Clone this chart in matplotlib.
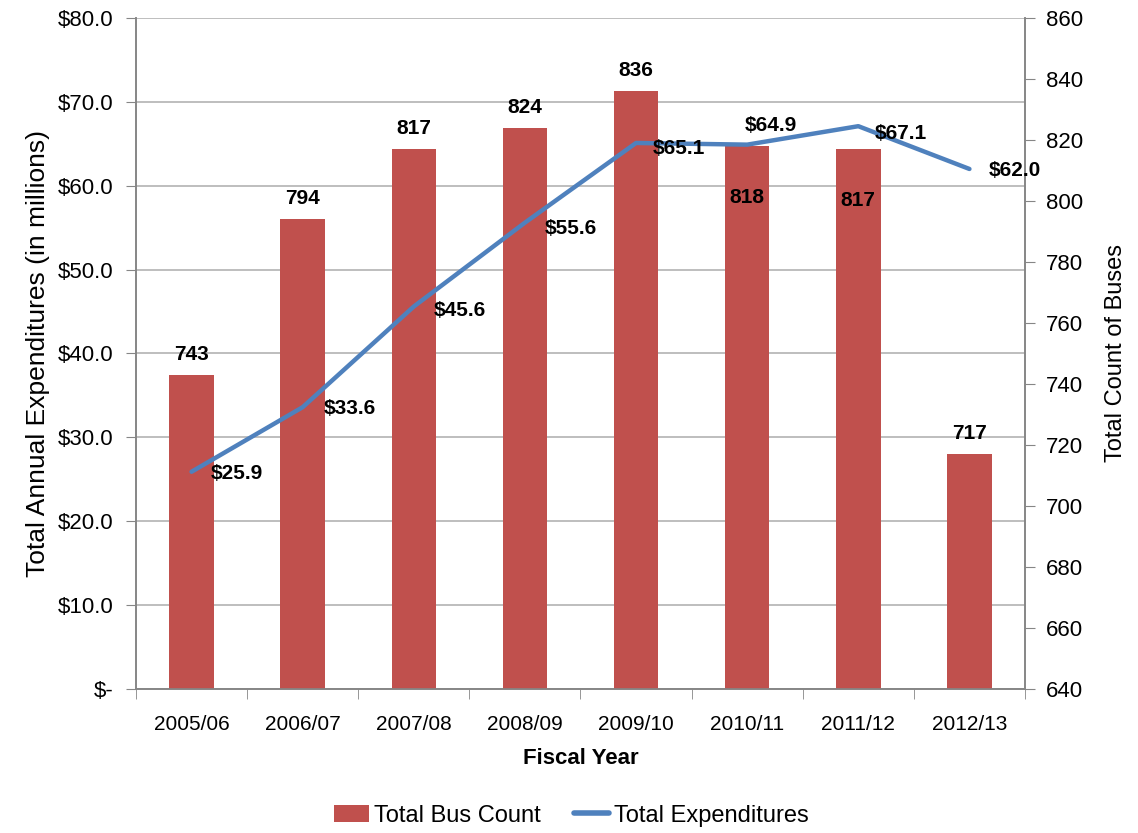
import numpy as np
import matplotlib.pyplot as plt
from matplotlib.patches import Patch
from matplotlib.lines import Line2D

years = ["2005/06", "2006/07", "2007/08", "2008/09", "2009/10", "2010/11", "2011/12", "2012/13"]
bus_count = [743, 794, 817, 824, 836, 818, 817, 717]
expenditures = [25.9, 33.6, 45.6, 55.6, 65.1, 64.9, 67.1, 62.0]

plt.rcParams['font.family'] = ['Liberation Sans Narrow', 'Liberation Sans', 'DejaVu Sans']
plt.rcParams['font.size'] = 15

bar_color = '#C0504D'
line_color = '#4F81BD'
axis_gray = '#868686'

rect = [0.1195, 0.1729, 0.7812, 0.8055]
fig = plt.figure(figsize=(11.38, 8.33), dpi=100)
ax = fig.add_axes(rect)          # left axis, grid
ax2 = ax.twinx()                 # right axis, bars
ax_line = fig.add_axes(rect, sharex=ax, sharey=ax)  # line on top of bars
ax_line.set_zorder(ax2.get_zorder() + 1)
ax_line.patch.set_visible(False)
ax_line.axis('off')

x = np.arange(len(years))

ax2.bar(x, bus_count, width=0.4, color=bar_color, zorder=2)
ax2.set_ylim(640, 860)
ax2.set_yticks(np.arange(640, 861, 20))

ax_line.plot(x, expenditures, color=line_color, linewidth=3.2, solid_capstyle='round')

ax.set_ylim(0, 80)
ax.set_yticks(np.arange(0, 81, 10))
ax.set_yticklabels(['$-'] + [f'${v:.1f}' for v in np.arange(10, 81, 10)])
ax.set_xlim(-0.5, len(years) - 0.5)
ax.set_xticks(x)
ax.set_xticklabels(years)
ax.set_xticks(np.arange(-0.5, len(years)), minor=True)
ax.tick_params(axis='x', which='major', length=0, pad=19, labelsize=15)
ax.tick_params(axis='x', which='minor', length=7, color=axis_gray, direction='out')
ax.tick_params(axis='y', length=7, color=axis_gray, direction='out', pad=9, labelsize=16)
ax2.tick_params(axis='y', length=7, color=axis_gray, direction='out', pad=8, labelsize=16)

ax.grid(axis='y', color='#b3b3b3', linewidth=1.2)
for a in (ax, ax2):
    a.spines['top'].set_visible(False)
    for side in ('left', 'right', 'bottom'):
        a.spines[side].set_color(axis_gray)
        a.spines[side].set_linewidth(1.2)

# bar value labels; two sit inside their bars to clear the line labels
inside = {5, 6}
for i, v in enumerate(bus_count):
    if i in inside:
        ax2.annotate(f'{v}', (x[i], v), xytext=(0, -37), textcoords='offset points',
                     ha='center', va='center', fontsize=15, fontweight='bold')
    else:
        ax2.annotate(f'{v}', (x[i], v), xytext=(0, 8), textcoords='offset points',
                     ha='center', va='bottom', fontsize=15, fontweight='bold')

# line value labels
line_offsets = [(14, -1), (15, -1), (14, -3), (14, -4), (12, -4), (-2, 14), (12, -5), (14, -1)]
for i, v in enumerate(expenditures):
    dx, dy = line_offsets[i]
    ax_line.annotate(f'${v:.1f}', (x[i], v), xytext=(dx, dy), textcoords='offset points',
                     ha='left', va='center', fontsize=15, fontweight='bold')

ax.set_ylabel('Total Annual Expenditures (in millions)', fontsize=19, labelpad=6)
ax2.set_ylabel('Total Count of Buses', fontsize=17, labelpad=16)
ax.set_xlabel('Fiscal Year', fontsize=16, fontweight='bold', labelpad=10)

handles = [Patch(facecolor=bar_color, label='Total Bus Count'),
           Line2D([0], [0], color=line_color, linewidth=4, solid_capstyle='round', label='Total Expenditures')]
fig.legend(handles=handles, loc='center', bbox_to_anchor=(0.502, 0.021), ncol=2, frameon=False,
           fontsize=17, handlelength=1.5, handletextpad=0.2, columnspacing=1.4)

fig.savefig('out.png', dpi=100)
